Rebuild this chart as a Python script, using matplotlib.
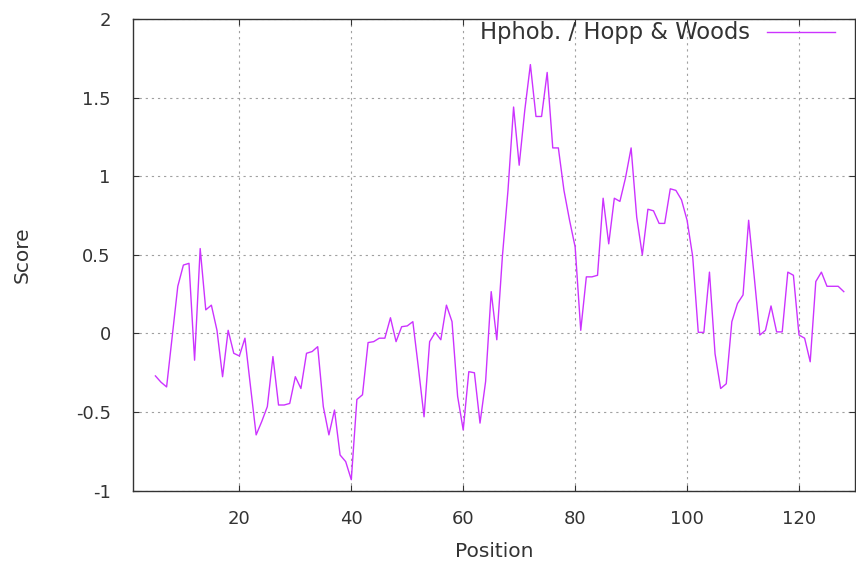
import numpy as np
import matplotlib
matplotlib.use('Agg')
import matplotlib.pyplot as plt

# Hopp & Woods hydrophobicity profile, one value per residue position
positions = np.arange(5, 129)
scores = [
    -0.27, -0.31, -0.34, -0.02, 0.30, 0.435, 0.446, -0.17, 0.54, 0.15,
    0.18, 0.02, -0.275, 0.02, -0.126, -0.143, -0.03, -0.34, -0.645, -0.56,
    -0.465, -0.147, -0.455, -0.455, -0.445, -0.275, -0.35, -0.126, -0.115, -0.084,
    -0.465, -0.645, -0.487, -0.773, -0.815, -0.93, -0.42, -0.39, -0.058, -0.052,
    -0.03, -0.03, 0.10, -0.052, 0.043, 0.048, 0.075, -0.22, -0.53, -0.052,
    0.007, -0.04, 0.18, 0.075, -0.40, -0.614, -0.243, -0.25, -0.57, -0.306,
    0.266, -0.04, 0.49, 0.91, 1.44, 1.07, 1.42, 1.71, 1.38, 1.38,
    1.66, 1.18, 1.18, 0.91, 0.72, 0.55, 0.02, 0.36, 0.36, 0.37,
    0.86, 0.57, 0.86, 0.84, 0.99, 1.18, 0.74, 0.50, 0.79, 0.78,
    0.70, 0.70, 0.92, 0.91, 0.85, 0.72, 0.49, 0.007, 0.007, 0.39,
    -0.13, -0.35, -0.32, 0.075, 0.19, 0.245, 0.72, 0.36, -0.01, 0.02,
    0.175, 0.01, 0.01, 0.39, 0.37, -0.01, -0.03, -0.18, 0.33, 0.39,
    0.30, 0.30, 0.30, 0.266,
]

xticks = [20, 40, 60, 80, 100, 120]
yticks = [-1, -0.5, 0, 0.5, 1, 1.5, 2]
yticklabels = ['-1', '-0.5', '0', '0.5', '1', '1.5', '2']

txt = '#333333'

fig = plt.figure(figsize=(8.56, 5.65), dpi=100)
ax = fig.add_axes([0.1554, 0.1315, 0.8434, 0.8349])

ax.plot(positions, scores, color='#cc33ff', lw=1.0, label='Hphob. / Hopp & Woods')

ax.set_xlim(1, 130)
ax.set_ylim(-1, 2)
ax.set_xticks(xticks)
ax.set_yticks(yticks)
ax.set_yticklabels(yticklabels)

# inward ticks mirrored on all four sides, dotted grid
ax.tick_params(direction='in', length=4, width=0.8, color=txt, labelcolor=txt,
               top=True, right=True, labelsize=13)
ax.tick_params(axis='x', pad=14)
ax.tick_params(axis='y', pad=16)
ax.grid(True, color='#a0a0a0', lw=0.8, linestyle=(0, (2, 3.5)))
for sp in ax.spines.values():
    sp.set_color(txt)
    sp.set_linewidth(1.0)

ax.set_xlabel('Position', fontsize=14.5, color=txt, labelpad=10)
ax.set_ylabel('Score', fontsize=14.5, color=txt, labelpad=32)

ax.legend(loc='upper right', bbox_to_anchor=(1.0, 1.038), frameon=False,
          markerfirst=False, fontsize=16.3, handlelength=3.0, handletextpad=0.75,
          borderaxespad=0.5, labelcolor=txt)

fig.savefig('out.png', dpi=100)
